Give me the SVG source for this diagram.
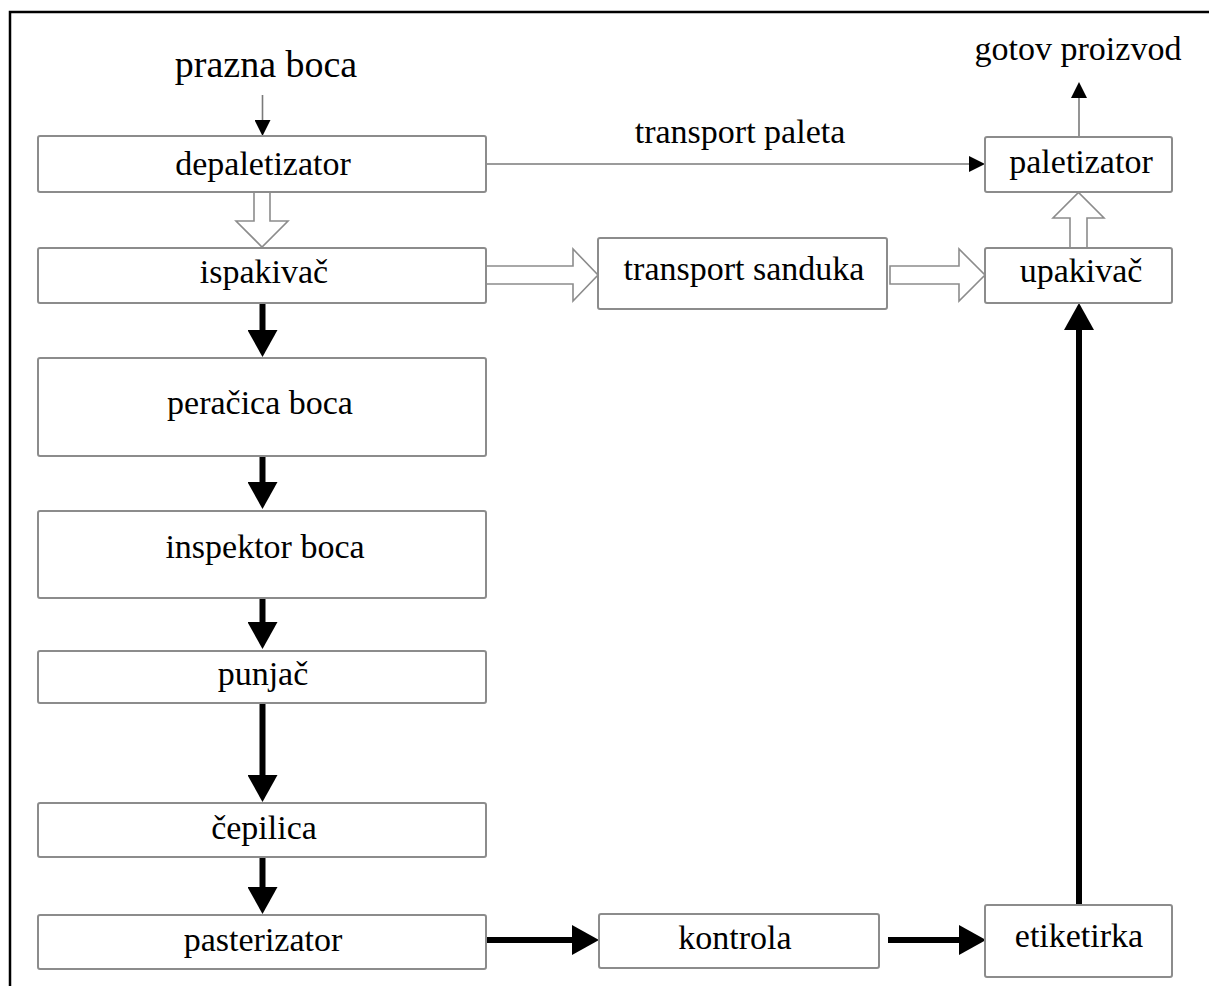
<svg xmlns="http://www.w3.org/2000/svg" width="1209" height="986" viewBox="0 0 1209 986">
<style>
.box{fill:#fff;stroke:#8c8c8c;stroke-width:2}
.lbl{font-family:"Liberation Serif","Times New Roman",serif;font-size:34px;fill:#000;text-anchor:middle}
.thin{stroke:#7a7a7a;stroke-width:1.6;fill:none}
.thick{stroke:#000;stroke-width:6;fill:none}
.hollow{fill:#fff;stroke:#8c8c8c;stroke-width:1.6;stroke-linejoin:miter}
</style>
<defs>
<marker id="thinHead" markerUnits="userSpaceOnUse" markerWidth="16" markerHeight="16" refX="0" refY="8" orient="auto">
<path d="M0,0 L16,8 L0,16 z" fill="#000"/>
</marker>
<marker id="thickHead" markerUnits="userSpaceOnUse" markerWidth="27" markerHeight="30" refX="0" refY="15" orient="auto">
<path d="M0,0 L27,15 L0,30 z" fill="#000"/>
</marker>
</defs>
<rect x="0" y="0" width="1209" height="986" fill="#fff"/>
<rect x="10" y="12" width="1260" height="1020" fill="none" stroke="#000" stroke-width="2.5"/>

<g id="connectors">
<line class="thin" x1="262.5" y1="95" x2="262.5" y2="120" marker-end="url(#thinHead)"/>
<line class="thin" x1="486" y1="164" x2="969" y2="164" marker-end="url(#thinHead)"/>
<line class="thin" x1="1079" y1="137" x2="1079" y2="98" marker-end="url(#thinHead)"/>
<polygon class="hollow" points="254,192 270,192 270,221 288,221 262,247 236,221 254,221"/>
<polygon class="hollow" points="1070,248 1087,248 1087,218 1104,218 1078.5,192.5 1053,218 1070,218"/>
<polygon class="hollow" points="486,266 573,266 573,249 598,275 573,301 573,284 486,284"/>
<polygon class="hollow" points="890,266 959,266 959,249 985,275 959,301 959,284 890,284"/>
<line class="thick" x1="262.5" y1="303" x2="262.5" y2="330" marker-end="url(#thickHead)"/>
<line class="thick" x1="262.5" y1="456" x2="262.5" y2="482" marker-end="url(#thickHead)"/>
<line class="thick" x1="262.5" y1="598" x2="262.5" y2="622" marker-end="url(#thickHead)"/>
<line class="thick" x1="262.5" y1="703" x2="262.5" y2="775" marker-end="url(#thickHead)"/>
<line class="thick" x1="262.5" y1="857" x2="262.5" y2="887" marker-end="url(#thickHead)"/>
<line class="thick" x1="486" y1="940" x2="572" y2="940" marker-end="url(#thickHead)"/>
<line class="thick" x1="888" y1="940" x2="959" y2="940" marker-end="url(#thickHead)"/>
<line class="thick" x1="1079" y1="905" x2="1079" y2="330" marker-end="url(#thickHead)"/>
</g>

<g id="label-prazna-boca"><text class="lbl" x="266" y="77" style="font-size:38px">prazna boca</text></g>
<g id="label-transport-paleta"><text class="lbl" x="740" y="143">transport paleta</text></g>
<g id="label-gotov-proizvod"><text class="lbl" x="1078" y="60">gotov proizvod</text></g>

<g id="depaletizator"><rect class="box" x="38" y="136" width="448" height="56" rx="2"/><text class="lbl" x="263" y="175">depaletizator</text></g>
<g id="ispakivac"><rect class="box" x="38" y="248" width="448" height="55" rx="2"/><text class="lbl" x="264" y="283">ispakivač</text></g>
<g id="peracica-boca"><rect class="box" x="38" y="358" width="448" height="98" rx="2"/><text class="lbl" x="260" y="414">peračica boca</text></g>
<g id="inspektor-boca"><rect class="box" x="38" y="511" width="448" height="87" rx="2"/><text class="lbl" x="265" y="558">inspektor boca</text></g>
<g id="punjac"><rect class="box" x="38" y="651" width="448" height="52" rx="2"/><text class="lbl" x="263" y="685">punjač</text></g>
<g id="cepilica"><rect class="box" x="38" y="803" width="448" height="54" rx="2"/><text class="lbl" x="264" y="839">čepilica</text></g>
<g id="pasterizator"><rect class="box" x="38" y="915" width="448" height="54" rx="2"/><text class="lbl" x="263" y="951">pasterizator</text></g>
<g id="transport-sanduka"><rect class="box" x="598" y="238" width="289" height="71" rx="2"/><text class="lbl" x="744" y="280">transport sanduka</text></g>
<g id="kontrola"><rect class="box" x="599" y="914" width="280" height="54" rx="2"/><text class="lbl" x="735" y="949">kontrola</text></g>
<g id="paletizator"><rect class="box" x="985" y="137" width="187" height="55" rx="2"/><text class="lbl" x="1081" y="173">paletizator</text></g>
<g id="upakivac"><rect class="box" x="985" y="248" width="187" height="55" rx="2"/><text class="lbl" x="1081" y="282">upakivač</text></g>
<g id="etiketirka"><rect class="box" x="985" y="905" width="187" height="72" rx="2"/><text class="lbl" x="1079" y="947">etiketirka</text></g>
</svg>
